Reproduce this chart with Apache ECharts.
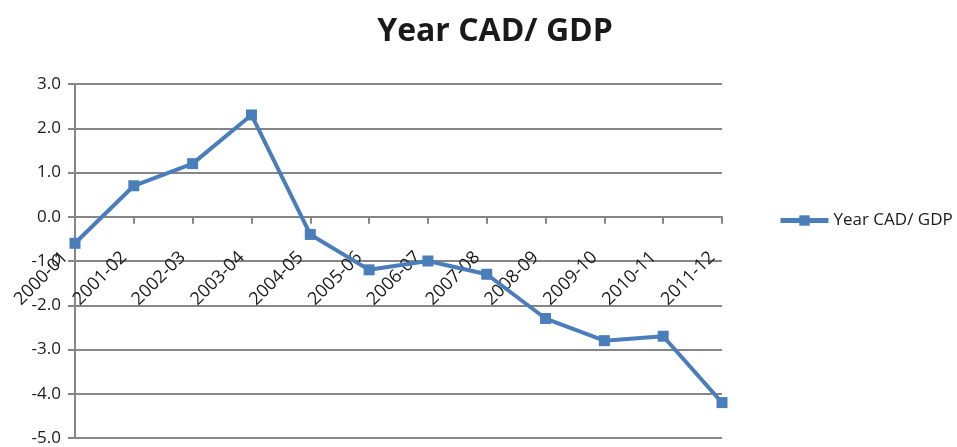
<!DOCTYPE html>
<html>
<head>
<meta charset="utf-8">
<script src="https://cdn.jsdelivr.net/npm/echarts@6/dist/echarts.min.js"></script>
<style>
  html, body { margin: 0; padding: 0; background: #ffffff; }
  #chart { width: 957px; height: 447px; }
</style>
</head>
<body>
<div id="chart"></div>
<script>
// Fiscal years and current account deficit as a share of GDP
const years = ['2000-01', '2001-02', '2002-03', '2003-04', '2004-05', '2005-06',
               '2006-07', '2007-08', '2008-09', '2009-10', '2010-11', '2011-12'];
const cadGdp = [-0.6, 0.7, 1.2, 2.3, -0.4, -1.2, -1.0, -1.3, -2.3, -2.8, -2.7, -4.2];
const seriesName = 'Year CAD/ GDP';
const yMin = -5, yMax = 3;

const FONT = '"Open Sans", "Liberation Sans", sans-serif';
const GRID = '#868686';
const BLUE = '#4a7ebb';

const W = 957, H = 447;
const gridTop = 84, gridBottom = 9;
// the category axis sits on the zero line; shift it up from the grid bottom
const plotH = H - gridTop - gridBottom;
const zeroOffset = -plotH * (0 - yMin) / (yMax - yMin);

const chart = echarts.init(document.getElementById('chart'), null, { renderer: 'canvas' });

chart.setOption({
  animation: false,
  backgroundColor: '#ffffff',
  title: {
    text: seriesName,
    left: 490,
    top: 11,
    textAlign: 'center',
    textStyle: { fontFamily: FONT, fontWeight: 'bold', fontSize: 32, color: '#1a1a1a' }
  },
  legend: {
    data: [seriesName],
    left: 773,
    top: 207,
    itemWidth: 48,
    itemHeight: 13,
    lineStyle: { width: 5 },
    textStyle: { fontFamily: FONT, fontSize: 17, color: '#1a1a1a' }
  },
  grid: { left: 75, right: 235, top: gridTop, bottom: gridBottom, outerBoundsMode: 'none', containLabel: false },
  xAxis: {
    type: 'category',
    data: years,
    boundaryGap: false,
    position: 'bottom',
    offset: zeroOffset,
    axisLine: { onZero: false, lineStyle: { color: GRID, width: 2 } },
    axisTick: { show: true, length: 7, lineStyle: { color: GRID, width: 2 } },
    axisLabel: {
      rotate: 45,
      margin: 28,
      padding: [0, 14, 0, 0],
      interval: 0,
      fontFamily: FONT,
      fontSize: 18,
      color: '#1a1a1a'
    },
    splitLine: { show: false }
  },
  yAxis: {
    type: 'value',
    min: yMin,
    max: yMax,
    interval: 1,
    axisLine: { show: true, lineStyle: { color: GRID, width: 2 } },
    axisTick: { show: true, length: 7, lineStyle: { color: GRID, width: 2 } },
    axisLabel: {
      margin: 14,
      fontFamily: FONT,
      fontSize: 17,
      color: '#1a1a1a',
      formatter: v => v.toFixed(1)
    },
    splitLine: { show: true, lineStyle: { color: GRID, width: 2 } }
  },
  series: [{
    name: seriesName,
    type: 'line',
    data: cadGdp,
    symbol: 'rect',
    symbolSize: 11,
    itemStyle: { color: BLUE },
    lineStyle: { color: BLUE, width: 4 }
  }]
});
</script>
</body>
</html>
